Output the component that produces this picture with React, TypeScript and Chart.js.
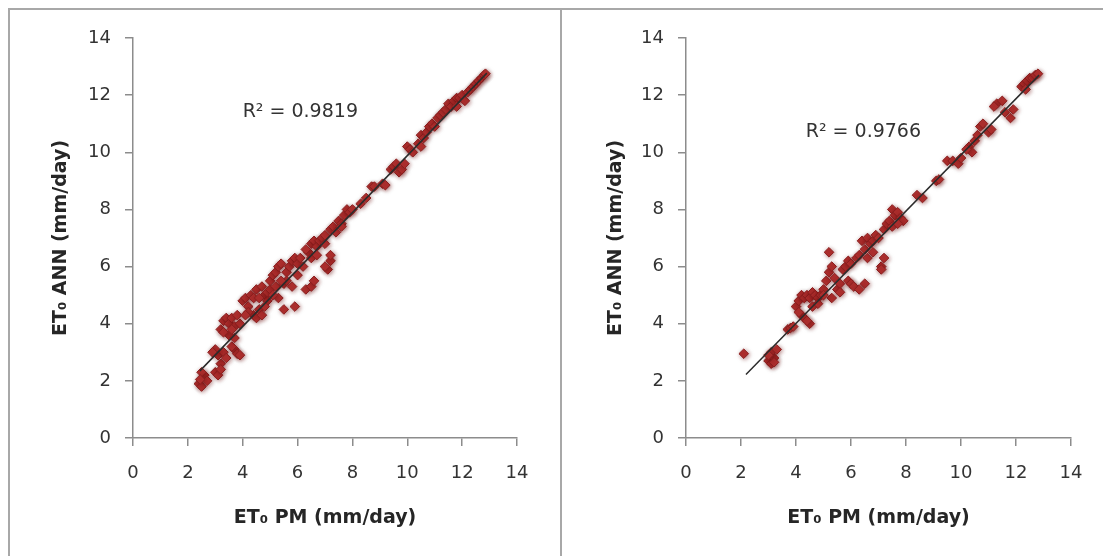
import React, { useEffect, useRef } from "react";
import { Chart, registerables } from "chart.js";

Chart.register(...registerables);

// ---------- Data ----------
const axisTicks = [0, 2, 4, 6, 8, 10, 12, 14];
const xTitle = "ET₀ PM (mm/day)";
const yTitle = "ET₀ ANN (mm/day)";

// Left panel (R² = 0.9819)
const leftPM = [2.4,2.5,2.6,2.5,2.7,2.45, 3.0,3.1,3.2,3.1,3.3,3.0,2.9,3.4,3.2, 3.7,3.8,3.6,3.9, 3.2,3.3,3.4,3.5,3.6,3.7,3.5,3.7,3.9,3.8,3.3,3.6, 4.0,4.1,4.2,4.3,4.4,4.5,4.6,4.5,4.7,4.8,4.9,4.4,4.2,4.6,4.7,4.1,4.9,5.0,4.8, 5.0,5.1,5.2,5.3,5.4,5.2,5.3,5.5,5.6,5.7,5.8,5.9,5.5,5.9,5.6,5.8,6.0,6.0,5.1,5.4, 6.1,6.2,6.3,6.5,6.6,6.4,6.5,6.6,6.7,6.8,6.9,6.5,6.3,6.7,7.0,7.0,7.1,7.2,7.2,7.0, 7.2,7.3,7.4,7.5,7.6,7.7,7.8,7.9,8.0,7.6, 8.3,8.5,8.7,8.8,9.1,9.2, 9.4,9.5,9.6,9.7,9.8,9.9,10.0,10.1,10.2,10.4,10.5,10.6, 10.7,10.8,10.9,11.0,11.1,11.2,11.3,11.4,11.5,11.6,11.7, 11.8,11.9,12.0,12.1,12.2,12.3,12.4,12.5,12.6,12.7,12.8,12.85,11.8,10.5];
const leftANN = [1.9,1.8,2.2,2.3,2.0,2.05, 2.3,2.2,2.6,2.9,3.0,3.1,3.0,2.8,2.4, 3.1,2.95,3.2,2.9, 3.8,4.1,4.2,4.0,4.2,3.9,3.6,3.5,4.0,4.3,3.7,3.8, 4.8,4.9,4.6,5.0,4.3,4.2,4.5,5.2,5.3,5.0,4.8,4.9,4.4,4.9,4.3,4.3,5.1,5.2,4.6, 5.5,5.7,5.8,6.0,6.1,5.3,4.9,5.4,5.8,6.0,6.2,6.3,4.5,4.6,5.5,5.3,5.7,6.1,5.0,5.5, 6.3,6.0,5.2,5.3,5.5,6.5,6.8,6.9,6.7,6.9,7.0,6.3,6.6,6.4,6.8,7.1,5.9,6.2,6.4,6.0, 7.3,7.4,7.2,7.6,7.5,7.8,8.0,7.9,8.0,7.4, 8.2,8.4,8.8,8.8,8.9,8.85, 9.4,9.5,9.6,9.3,9.4,9.6,10.2,10.1,10.0,10.3,10.6,10.5, 10.7,10.9,11.0,10.9,11.2,11.3,11.4,11.5,11.7,11.6,11.8, 11.9,11.9,12.0,11.8,12.1,12.2,12.3,12.4,12.5,12.6,12.7,12.75,11.6,10.2];
const leftTrendPM = [2.44, 12.9];
const leftTrendANN = [2.35, 12.77];
const leftR2 = "R² = 0.9819";
const leftR2At = [6.1, 11.4];

// Right panel (R² = 0.9766)
const rightPM = [2.1, 3.0,3.1,3.2,3.1,3.3,3.2,3.0, 3.7,3.8,3.9, 4.0,4.1,4.2,4.3,4.4,4.5,4.6,4.7,4.8,4.2,4.3,4.5,4.4,4.1,4.6,4.8,4.9, 5.0,5.1,5.2,5.3,5.2,5.4,5.5,5.6,5.7,5.8,5.9,6.0,5.9,6.0,6.1,5.3,5.0,5.6, 6.2,6.3,6.4,6.5,6.6,6.7,6.8,6.9,6.5,6.6,6.8,7.0,7.1,7.2,7.1,6.3, 7.2,7.3,7.4,7.5,7.6,7.7,7.8,7.9,7.5,7.7, 8.4,8.6,9.1,9.2, 9.5,9.7,9.9,10.0,10.3,10.4,10.5,10.6,10.7,10.8,10.2, 11.0,11.1,11.3,11.5,11.2,11.6,11.8,11.9, 12.2,12.3,12.4,12.5,12.6,12.7,12.8,12.35];
const rightANN = [2.95, 2.7,2.6,2.8,3.0,3.1,2.65,2.9, 3.8,3.85,3.9, 4.6,4.8,5.0,4.9,5.0,4.9,5.1,5.0,4.9,4.3,4.2,4.0,4.1,4.4,4.6,4.7,5.0, 5.2,5.5,5.8,6.0,6.5,5.6,5.2,5.4,5.9,6.0,6.2,6.1,5.5,5.4,5.3,4.9,5.0,5.1, 6.3,6.4,6.9,6.6,7.0,6.8,6.9,7.1,5.4,6.3,6.5,7.0,6.0,6.3,5.9,5.2, 7.3,7.5,7.6,8.0,7.8,7.9,7.7,7.6,7.4,7.5, 8.5,8.4,9.0,9.05, 9.7,9.7,9.6,9.8,10.2,10.0,10.4,10.6,10.9,11.0,10.1, 10.7,10.8,11.7,11.8,11.6,11.4,11.2,11.5, 12.3,12.4,12.5,12.6,12.6,12.7,12.75,12.2];
const rightTrendPM = [2.18, 12.84];
const rightTrendANN = [2.22, 12.7];
const rightR2 = "R² = 0.9766";
const rightR2At = [6.45, 10.7];

// ---------- Styling ----------
const FONT = '"DejaVu Sans", sans-serif';
const AXIS_GRAY = "#8c8c8c";
const TEXT_GRAY = "#333333";

const markerShadow = {
  id: "markerShadow",
  beforeDatasetDraw(chart: any, args: any) {
    if (args.meta.type !== "scatter") return;
    const ctx = chart.ctx;
    ctx.save();
    ctx.shadowColor = "rgba(110,20,20,0.5)";
    ctx.shadowBlur = 4;
    ctx.shadowOffsetX = 1;
    ctx.shadowOffsetY = 1;
  },
  afterDatasetDraw(chart: any, args: any) {
    if (args.meta.type !== "scatter") return;
    chart.ctx.restore();
  },
};

const r2Label = {
  id: "r2Label",
  afterDatasetsDraw(chart: any, _args: any, opts: any) {
    const { ctx, scales } = chart;
    ctx.save();
    ctx.font = `19px ${FONT}`;
    ctx.fillStyle = "#333333";
    ctx.textAlign = "center";
    ctx.textBaseline = "middle";
    ctx.fillText(opts.text, scales.x.getPixelForValue(opts.at[0]), scales.y.getPixelForValue(opts.at[1]));
    ctx.restore();
  },
};

type PanelCfg = {
  xs: number[];
  ys: number[];
  trendX: number[];
  trendY: number[];
  r2: string;
  r2At: number[];
  yAxisWidth: number;
  padRight: number;
  yTitlePad: number;
  xTitlePad: number;
};

function axis(title: string, titlePad: any, extra: any) {
  return {
    type: "linear",
    min: axisTicks[0],
    max: axisTicks[axisTicks.length - 1],
    afterBuildTicks(scale: any) {
      scale.ticks = axisTicks.map((v) => ({ value: v }));
    },
    grid: {
      drawOnChartArea: false,
      drawTicks: true,
      tickLength: 8,
      color: AXIS_GRAY,
      lineWidth: 1.5,
    },
    border: { display: true, color: AXIS_GRAY, width: 1.5 },
    ticks: {
      color: TEXT_GRAY,
      font: { family: FONT, size: 18 },
      autoSkip: false,
      maxRotation: 0,
    },
    title: {
      display: true,
      text: title,
      color: "#262626",
      font: { family: FONT, size: 19, weight: "bold" },
      padding: titlePad,
    },
    ...extra,
  };
}

function Panel({ cfg, style }: { cfg: PanelCfg; style: React.CSSProperties }) {
  const ref = useRef<HTMLCanvasElement | null>(null);
  useEffect(() => {
    if (!ref.current) return;
    const points = cfg.xs.map((x, i) => ({ x, y: cfg.ys[i] }));
    const trend = cfg.trendX.map((x, i) => ({ x, y: cfg.trendY[i] }));
    const xAxis: any = axis(xTitle, { top: 0, bottom: cfg.xTitlePad }, {
      afterFit(scale: any) {
        scale.height = 118;
      },
    });
    xAxis.ticks.padding = 17;
    const yAxis: any = axis(yTitle, { top: cfg.yTitlePad, bottom: 0 }, {
      afterFit(scale: any) {
        scale.width = cfg.yAxisWidth;
      },
    });
    yAxis.ticks.padding = 14;
    const chart = new Chart(ref.current, {
      type: "scatter",
      data: {
        datasets: [
          {
            type: "line",
            data: trend,
            borderColor: "#2b2b2b",
            borderWidth: 1.5,
            pointRadius: 0,
            fill: false,
            order: 0,
          } as any,
          {
            type: "scatter",
            data: points,
            pointStyle: "rectRot",
            pointRadius: 4.8,
            backgroundColor: "#b0302f",
            borderColor: "#8a1f1f",
            borderWidth: 1,
            order: 1,
          } as any,
        ],
      },
      options: {
        responsive: false,
        animation: false,
        layout: { padding: { top: 28, right: cfg.padRight, bottom: 0, left: 0 } },
        plugins: {
          legend: { display: false },
          tooltip: { enabled: false },
          r2Label: { text: cfg.r2, at: cfg.r2At },
        } as any,
        scales: { x: xAxis, y: yAxis },
      },
      plugins: [markerShadow, r2Label],
    });
    return () => chart.destroy();
  }, [cfg]);
  return <canvas ref={ref} width={style.width as number} height={style.height as number} style={style} />;
}

const leftCfg: PanelCfg = {
  xs: leftPM,
  ys: leftANN,
  trendX: leftTrendPM,
  trendY: leftTrendANN,
  r2: leftR2,
  r2At: leftR2At,
  yAxisWidth: 123,
  padRight: 43,
  yTitlePad: 40,
  xTitlePad: 27,
};

const rightCfg: PanelCfg = {
  xs: rightPM,
  ys: rightANN,
  trendX: rightTrendPM,
  trendY: rightTrendANN,
  r2: rightR2,
  r2At: rightR2At,
  yAxisWidth: 124,
  padRight: 32,
  yTitlePad: 43,
  xTitlePad: 27,
};

export default function App() {
  return (
    <div style={{ position: "absolute", left: 0, top: 0, width: 1103, height: 556, background: "#ffffff", overflow: "hidden" }}>
      <div
        style={{
          position: "absolute",
          left: 8,
          top: 8,
          width: 1103 - 8,
          height: 556 - 8,
          borderTop: "2px solid #a8a8a8",
          borderLeft: "2px solid #a8a8a8",
          boxSizing: "border-box",
        }}
      />
      <div style={{ position: "absolute", left: 560, top: 8, width: 2, height: 548, background: "#a8a8a8" }} />
      <Panel cfg={leftCfg} style={{ position: "absolute", left: 10, top: 10, width: 550, height: 546 }} />
      <Panel cfg={rightCfg} style={{ position: "absolute", left: 562, top: 10, width: 541, height: 546 }} />
    </div>
  );
}
